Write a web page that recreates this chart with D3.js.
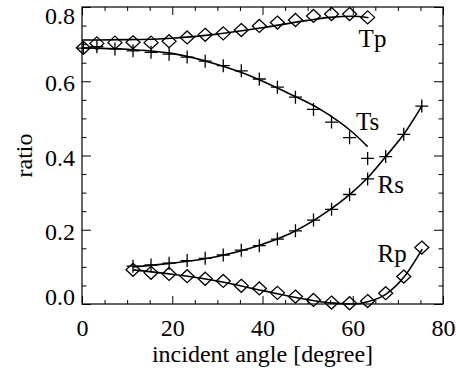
<!DOCTYPE html>
<html>
<head>
<meta charset="utf-8">
<script src="https://cdn.jsdelivr.net/npm/d3@7"></script>
<style>
  body { margin: 0; background: #fff; }
  text { font-family: "Liberation Serif", "DejaVu Serif", serif; fill: #000; }
</style>
</head>
<body>
<div id="svg"></div>
<script>
const angleT = [0.3, 3.3, 7.3, 11.3, 15.3, 19.3, 23.3, 27.3, 31.3, 35.3, 39.3, 43.3, 47.3, 51.3, 55.3, 59.3, 63.3];
const tpValues = [0.690, 0.702, 0.704, 0.705, 0.704, 0.708, 0.718, 0.725, 0.729, 0.738, 0.749, 0.758, 0.765, 0.776, 0.781, 0.781, 0.772];
const tsValues = [0.689, 0.693, 0.687, 0.682, 0.678, 0.673, 0.665, 0.654, 0.642, 0.628, 0.606, 0.584, 0.557, 0.524, 0.490, 0.448, 0.392];

const angleR = [11.3, 15.3, 19.3, 23.3, 27.3, 31.3, 35.3, 39.3, 43.3, 47.3, 51.3, 55.3, 59.3, 63.3, 67.3, 71.3, 75.3];
const rsValues = [0.102, 0.105, 0.110, 0.117, 0.123, 0.132, 0.145, 0.157, 0.175, 0.197, 0.226, 0.255, 0.295, 0.337, 0.397, 0.457, 0.533];
const rpValues = [0.092, 0.084, 0.081, 0.075, 0.068, 0.062, 0.049, 0.042, 0.030, 0.020, 0.011, 0.004, 0.002, 0.008, 0.029, 0.074, 0.152];

// fitted curves
const tpFitAngle = [0, 10, 20, 30, 40, 50, 55, 60, 63.5];
const tpFit = [0.711, 0.712, 0.716, 0.727, 0.744, 0.764, 0.772, 0.775, 0.771];
const tsFitAngle = [0, 10, 20, 30, 38, 45.5, 53, 60, 63.3];
const tsFit = [0.690, 0.686, 0.675, 0.645, 0.611, 0.569, 0.523, 0.462, 0.424];
const rsFitAngle = [11.3, 20, 30, 38, 46, 53, 60, 63.3, 67.3, 71.3, 75.4];
const rsFit = [0.100, 0.110, 0.128, 0.153, 0.189, 0.238, 0.302, 0.340, 0.397, 0.457, 0.535];
const rpFitAngle = [11.3, 20, 30, 40, 50, 55, 60, 63.3, 67.3, 71.3, 75.4];
const rpFit = [0.092, 0.080, 0.062, 0.036, 0.012, 0.003, 0.000, 0.006, 0.026, 0.072, 0.148];

// axis ticks
const xTicks = [0, 20, 40, 60, 80];
const yTicks = [0.0, 0.2, 0.4, 0.6, 0.8];

// curve names and where they sit (angle, ratio)
const curveNames = ["Tp", "Ts", "Rs", "Rp"];
const nameAngle = [61.3, 60.7, 65.5, 65.5];
const nameValue = [0.693, 0.469, 0.300, 0.114];

var ChartModule = (() => {

    const width = 456,
        height = 371,
        margin = { top: 7, right: 13, bottom: 67, left: 82 },
        fontSize = 24;

    const xScale = d3.scaleLinear()
        .domain([0, 80])
        .range([margin.left, width - margin.right]);

    const yScale = d3.scaleLinear()
        .domain([0, 0.8])
        .range([height - margin.bottom, margin.top]);

    const svg = d3.select("#svg")
        .append("svg")
        .attr("width", width)
        .attr("height", height);

    const xMinor = d3.range(0, 81, 5).filter(v => v % 20 !== 0);
    const yMinor = d3.range(0, 17).map(i => i * 0.05).filter(v => Math.round(v * 100) % 20 !== 0);

    function drawAxes() {
        const bottom = height - margin.bottom,
            right = width - margin.right;

        svg.append("g")
            .attr("transform", `translate(0,${bottom})`)
            .call(d3.axisBottom(xScale).tickValues(xTicks).tickSize(-8).tickSizeOuter(0).tickPadding(15))
            .call(g => g.selectAll("text").attr("font-size", fontSize));
        svg.append("g")
            .attr("transform", `translate(0,${bottom})`)
            .call(d3.axisBottom(xScale).tickValues(xMinor).tickSize(-4).tickSizeOuter(0).tickFormat(""));
        svg.append("g")
            .attr("transform", `translate(0,${margin.top})`)
            .call(d3.axisTop(xScale).tickValues(xTicks).tickSize(-8).tickSizeOuter(0).tickFormat(""));
        svg.append("g")
            .attr("transform", `translate(0,${margin.top})`)
            .call(d3.axisTop(xScale).tickValues(xMinor).tickSize(-4).tickSizeOuter(0).tickFormat(""));

        svg.append("g")
            .attr("transform", `translate(${margin.left},0)`)
            .call(d3.axisLeft(yScale).tickValues(yTicks).tickSize(-9).tickSizeOuter(0).tickPadding(7).tickFormat(d3.format(".1f")))
            .call(g => g.selectAll("text")
                .attr("font-size", fontSize)
                .attr("dy", d => d === 0.8 ? "0.67em" : d === 0 ? "0.04em" : "0.4em"));
        svg.append("g")
            .attr("transform", `translate(${margin.left},0)`)
            .call(d3.axisLeft(yScale).tickValues(yMinor).tickSize(-4.5).tickSizeOuter(0).tickFormat(""));
        svg.append("g")
            .attr("transform", `translate(${right},0)`)
            .call(d3.axisRight(yScale).tickValues(yTicks).tickSize(-9).tickSizeOuter(0).tickFormat(""));
        svg.append("g")
            .attr("transform", `translate(${right},0)`)
            .call(d3.axisRight(yScale).tickValues(yMinor).tickSize(-4.5).tickSizeOuter(0).tickFormat(""));

        svg.selectAll(".domain").remove();
        svg.selectAll(".tick line").attr("stroke", "#000");

        svg.append("rect")
            .attr("x", margin.left)
            .attr("y", margin.top)
            .attr("width", right - margin.left)
            .attr("height", bottom - margin.top)
            .attr("fill", "none")
            .attr("stroke", "#000")
            .attr("stroke-width", 1.2);

        svg.append("text")
            .attr("x", (margin.left + right) / 2)
            .attr("y", 362)
            .attr("text-anchor", "middle")
            .attr("font-size", fontSize)
            .text("incident angle [degree]");

        svg.append("text")
            .attr("transform", `translate(32,${(margin.top + bottom) / 2}) rotate(-90)`)
            .attr("text-anchor", "middle")
            .attr("font-size", fontSize)
            .text("ratio");
    }

    function drawFit(angles, values) {
        const line = d3.line()
            .x((d, i) => xScale(angles[i]))
            .y(d => yScale(d))
            .curve(d3.curveMonotoneX);
        svg.append("path")
            .datum(values)
            .attr("d", line)
            .attr("fill", "none")
            .attr("stroke", "#000")
            .attr("stroke-width", 1.6);
    }

    function drawMarkers(angles, values, shape) {
        const path = shape === "diamond"
            ? "M0,-6.5L7,0L0,6.5L-7,0Z"
            : "M-6.5,0H6.5M0,-6.5V6.5";
        svg.append("g")
            .selectAll("path")
            .data(values)
            .join("path")
            .attr("transform", (d, i) => `translate(${xScale(angles[i])},${yScale(d)})`)
            .attr("d", path)
            .attr("fill", "none")
            .attr("stroke", "#000")
            .attr("stroke-width", 1.3);
    }

    function drawNames() {
        svg.append("g")
            .selectAll("text")
            .data(curveNames)
            .join("text")
            .attr("x", (d, i) => xScale(nameAngle[i]))
            .attr("y", (d, i) => yScale(nameValue[i]))
            .attr("font-size", 25)
            .text(d => d);
    }

    drawAxes();
    drawFit(tpFitAngle, tpFit);
    drawFit(tsFitAngle, tsFit);
    drawFit(rsFitAngle, rsFit);
    drawFit(rpFitAngle, rpFit);
    drawMarkers(angleT, tpValues, "diamond");
    drawMarkers(angleT, tsValues, "cross");
    drawMarkers(angleR, rsValues, "cross");
    drawMarkers(angleR, rpValues, "diamond");
    drawNames();

})();
</script>
</body>
</html>
